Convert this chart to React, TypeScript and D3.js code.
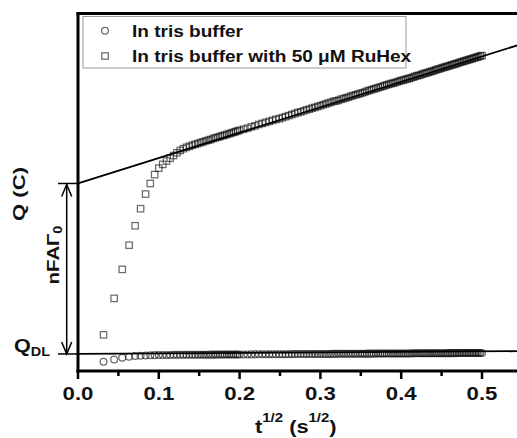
import React from "react";
import * as d3 from "d3";

// sample times (ms); x = t^(1/2) in s^(1/2)
const tMs = [
  1, 2, 3, 4, 5, 6, 7, 8, 9, 10, 11, 12, 13, 14, 15, 16, 17, 18, 19, 20,
  21, 22, 23, 24, 25, 26, 27, 28, 29, 30, 31, 32, 33, 34, 35, 36, 37, 38, 39, 40,
  42, 44, 46, 48, 50, 52, 54, 56, 58, 60,
  62, 64, 66, 68, 70, 72, 74, 76, 78, 80, 82, 84, 86, 88, 90, 92, 94, 96, 98, 100,
  102, 104, 106, 108, 110, 112, 114, 116, 118, 120, 122, 124, 126, 128, 130, 132, 134, 136, 138, 140,
  142, 144, 146, 148, 150, 152, 154, 156, 158, 160,
  162, 164, 166, 168, 170, 172, 174, 176, 178, 180, 182, 184, 186, 188, 190, 192, 194, 196, 198, 200,
  202, 204, 206, 208, 210, 212, 214, 216, 218, 220, 222, 224, 226, 228, 230, 232, 234, 236, 238, 240,
  242, 244, 246, 248, 250,
];

// Q (arbitrary units) in tris buffer with 50 uM RuHex (squares)
const qRuHex = [
  0.56, 1.63, 2.48, 3.19, 3.76, 4.26, 4.69, 5.0, 5.26, 5.45,
  5.56, 5.66, 5.74, 5.82, 5.9, 5.97, 6.02, 6.06, 6.09, 6.12,
  6.15, 6.17, 6.2, 6.22, 6.25, 6.27, 6.29, 6.32, 6.34, 6.36,
  6.38, 6.4, 6.42, 6.44, 6.46, 6.48, 6.5, 6.52, 6.54, 6.56,
  6.59, 6.62, 6.66, 6.69, 6.73, 6.76, 6.79, 6.82, 6.85, 6.88,
  6.9, 6.93, 6.96, 6.99, 7.02, 7.05, 7.08, 7.1, 7.13, 7.16,
  7.18, 7.21, 7.23, 7.26, 7.28, 7.31, 7.33, 7.36, 7.38, 7.41,
  7.42, 7.44, 7.47, 7.49, 7.51, 7.53, 7.56, 7.58, 7.6, 7.62,
  7.64, 7.66, 7.68, 7.71, 7.73, 7.75, 7.77, 7.79, 7.81, 7.83,
  7.85, 7.87, 7.89, 7.91, 7.93, 7.94, 7.96, 7.98, 8.0, 8.02,
  8.03, 8.05, 8.07, 8.08, 8.1, 8.12, 8.14, 8.16, 8.17, 8.19,
  8.21, 8.23, 8.24, 8.26, 8.28, 8.29, 8.31, 8.33, 8.35, 8.36,
  8.38, 8.4, 8.41, 8.43, 8.44, 8.46, 8.48, 8.49, 8.51, 8.52,
  8.54, 8.56, 8.57, 8.59, 8.6, 8.62, 8.63, 8.65, 8.66, 8.68,
  8.69, 8.71, 8.72, 8.74, 8.75,
];

// Q (arbitrary units) in tris buffer (circles)
const qBuffer = [
  -0.23, -0.16, -0.11, -0.08, -0.06, -0.05, -0.045, -0.04, -0.035, -0.03,
  -0.03, -0.029, -0.028, -0.027, -0.027, -0.026, -0.025, -0.025, -0.024, -0.024,
  -0.023, -0.023, -0.022, -0.022, -0.021, -0.021, -0.02, -0.02, -0.019, -0.019,
  -0.019, -0.018, -0.018, -0.017, -0.017, -0.017, -0.016, -0.016, -0.015, -0.015,
  -0.014, -0.014, -0.013, -0.012, -0.011, -0.011, -0.01, -0.01, -0.009, -0.008,
  -0.008, -0.007, -0.006, -0.006, -0.005, -0.005, -0.004, -0.004, -0.003, -0.003,
  -0.002, -0.002, -0.001, -0.001, 0.0, 0.0, 0.001, 0.001, 0.002, 0.002,
  0.003, 0.003, 0.004, 0.004, 0.005, 0.005, 0.006, 0.006, 0.007, 0.007,
  0.007, 0.008, 0.008, 0.009, 0.009, 0.009, 0.01, 0.01, 0.011, 0.011,
  0.012, 0.012, 0.012, 0.013, 0.013, 0.013, 0.014, 0.014, 0.015, 0.015,
  0.015, 0.016, 0.016, 0.016, 0.017, 0.017, 0.018, 0.018, 0.018, 0.019,
  0.019, 0.019, 0.02, 0.02, 0.02, 0.021, 0.021, 0.021, 0.022, 0.022,
  0.022, 0.023, 0.023, 0.023, 0.024, 0.024, 0.024, 0.025, 0.025, 0.025,
  0.026, 0.026, 0.026, 0.027, 0.027, 0.027, 0.028, 0.028, 0.028, 0.029,
  0.029, 0.029, 0.029, 0.03, 0.03,
];

// linear fits: Q = intercept + slope * t^(1/2)
const fitRuHex = [5.0, 7.45];
const fitBuffer = [0.0, 0.15];
const fitRange = [0, 0.55];

const xMajorTicks = [0, 0.1, 0.2, 0.3, 0.4, 0.5];
const xMinorTicks = [0.05, 0.15, 0.25, 0.35, 0.45, 0.55];
const legendLabels = ["In tris buffer", "In tris buffer with 50 \u03bcM RuHex"];

const W = 517;
const H = 438;
const FONT = "'Liberation Sans', Arial, Helvetica, sans-serif";

export default function App() {
  const x = d3.scaleLinear().domain([0, 0.55]).range([78, 522.4]);
  const y = d3.scaleLinear().domain([-0.5, 10]).range([371, 13]);

  const xs = tMs.map((t) => Math.sqrt(t / 1000));
  const line = d3
    .line<number[]>()
    .x((d) => x(d[0]))
    .y((d) => y(d[1]));

  const fitPts = (f: number[]) => fitRange.map((v) => [v, f[0] + f[1] * v]);

  const markerStroke = "rgba(0,0,0,0.58)";
  const mw = 1.25;
  const sq = 6.4;
  const r = 3.4;

  const yTop = y(fitRuHex[0]);
  const yDL = y(fitBuffer[0]);
  const arrowX = 66.7;

  return (
    <svg
      width={W}
      height={H}
      style={{ position: "absolute", left: 0, top: 0, background: "#fff" }}
      fontFamily={FONT}
      fontWeight="bold"
    >
      <rect x={0} y={0} width={W} height={H} fill="#fff" />
      {/* legend box */}
      <rect x={83} y={16.5} width={323} height={51.5} fill="#fff" stroke="#9a9a9a" strokeWidth={1} />
      <circle cx={105} cy={30.7} r={r} fill="none" stroke={markerStroke} strokeWidth={mw} />
      <rect x={105 - sq / 2} y={56 - sq / 2} width={sq} height={sq} fill="none" stroke={markerStroke} strokeWidth={mw} />
      {legendLabels.map((lab, i) => (
        <text key={lab} transform={`translate(132,${36.5 + i * 25}) scale(1.19,1)`} fontSize={16} fill="#111">
          {lab}
        </text>
      ))}

      {/* data markers */}
      {xs.map((xv, i) => (
        <rect
          key={"s" + i}
          x={x(xv) - sq / 2}
          y={y(qRuHex[i]) - sq / 2}
          width={sq}
          height={sq}
          fill="none"
          stroke={markerStroke}
          strokeWidth={mw}
        />
      ))}
      {xs.map((xv, i) => (
        <circle key={"c" + i} cx={x(xv)} cy={y(qBuffer[i])} r={r} fill="none" stroke={markerStroke} strokeWidth={mw} />
      ))}

      {/* fit lines */}
      <path d={line(fitPts(fitRuHex)) || ""} stroke="#000" strokeWidth={1.8} fill="none" />
      <path d={line(fitPts(fitBuffer)) || ""} stroke="#000" strokeWidth={1.8} fill="none" />

      {/* frame */}
      <line x1={76.5} x2={W + 10} y1={13.5} y2={13.5} stroke="#000" strokeWidth={3} />
      <line x1={78} x2={78} y1={12} y2={372.5} stroke="#000" strokeWidth={3} />
      <line x1={76.5} x2={W + 10} y1={371} y2={371} stroke="#000" strokeWidth={3} />
      {xMajorTicks.map((t) => (
        <line key={"M" + t} x1={x(t)} x2={x(t)} y1={371} y2={379} stroke="#000" strokeWidth={2.5} />
      ))}
      {xMinorTicks.map((t) => (
        <line key={"m" + t} x1={x(t)} x2={x(t)} y1={371} y2={376} stroke="#000" strokeWidth={2.5} />
      ))}
      {xMajorTicks.map((t) => (
        <text
          key={"L" + t}
          transform={`translate(${x(t)},400) scale(1.2,1)`}
          textAnchor="middle"
          fontSize={18.5}
          fill="#111"
        >
          {d3.format(".1f")(t)}
        </text>
      ))}

      {/* x-axis title */}
      <text transform="translate(255,433) scale(1.15,1)" fontSize={19} fill="#111">
        t
        <tspan fontSize={13} dy={-11}>1/2</tspan>
        <tspan fontSize={19} dy={11}> (s</tspan>
        <tspan fontSize={13} dy={-11}>1/2</tspan>
        <tspan fontSize={19} dy={11}>)</tspan>
      </text>

      {/* y-axis title */}
      <text transform="translate(25,194) rotate(-90) scale(1.3,1)" textAnchor="middle" fontSize={17} fill="#111">
        Q (C)
      </text>

      {/* bracket with double arrow */}
      <line x1={58} x2={78} y1={yTop} y2={yTop} stroke="#000" strokeWidth={1.5} />
      <line x1={58} x2={78} y1={yDL} y2={yDL} stroke="#000" strokeWidth={1.5} />
      <line x1={arrowX} x2={arrowX} y1={yTop + 1} y2={yDL - 1} stroke="#000" strokeWidth={1.5} />
      <path
        d={`M${arrowX - 5},${yTop + 13} L${arrowX},${yTop + 1} L${arrowX + 5},${yTop + 13}`}
        stroke="#000"
        strokeWidth={1.5}
        fill="none"
      />
      <path
        d={`M${arrowX - 5},${yDL - 12} L${arrowX},${yDL} L${arrowX + 5},${yDL - 12}`}
        stroke="#000"
        strokeWidth={1.5}
        fill="none"
      />
      <text transform="translate(59,255) rotate(-90) scale(1.2,1)" textAnchor="middle" fontSize={17} fill="#111">
        nFA{"\u0393"}
        <tspan fontSize={12} dy={3}>0</tspan>
      </text>
      <text transform={`translate(14,${yDL - 2}) scale(1.2,1)`} fontSize={18} fill="#111">
        Q<tspan fontSize={12} dy={4}>DL</tspan>
      </text>
    </svg>
  );
}
